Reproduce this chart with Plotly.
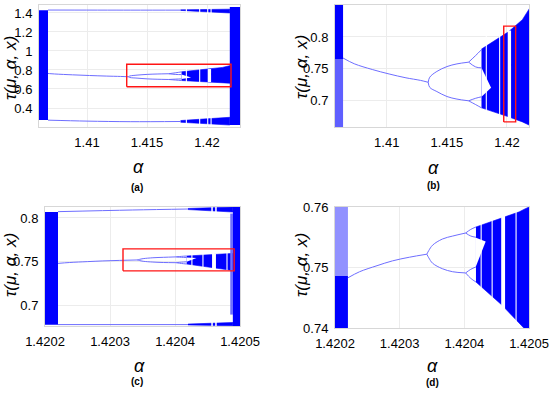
import plotly.graph_objects as go

W, H = 550, 395
BLUE = 'rgb(0,0,255)'
BRANCH = 'rgb(110,110,255)'
RED = 'rgb(255,20,20)'
FONT = "'Liberation Sans Narrow', 'Liberation Sans', Arial, sans-serif"

# ---------------- family (a)/(b): middle branch of the period-3 window ----------------
ab_p1_x = [1.40637, 1.4073, 1.4088, 1.4102, 1.4116, 1.4128, 1.41345]
ab_p1_y = [0.767, 0.758, 0.749, 0.742, 0.736, 0.732, 0.729]
ab_p2_x = [1.41345, 1.41358, 1.41417, 1.41501, 1.41584, 1.41681]
ab_p2_up = [0.729, 0.737, 0.746, 0.7536, 0.7578, 0.7605]
ab_p2_lo = [0.729, 0.721, 0.7145, 0.7067, 0.7027, 0.700]
ab_p4_x = [1.41681, 1.41740, 1.41788]
ab_p4_uu = [0.7605, 0.771, 0.780]
ab_p4_ul = [0.7605, 0.753, 0.7516]
ab_p4_lu = [0.700, 0.704, 0.7063]
ab_p4_ll = [0.700, 0.694, 0.689]
ab_chaos_x = [1.41788, 1.41878, 1.42012, 1.42128, 1.42195, 1.4222]
ab_chaos_top = [0.781, 0.792, 0.808, 0.827, 0.847, 0.852]
ab_chaos_bot = [0.689, 0.683, 0.675, 0.667, 0.661, 0.659]
ab_notch_x = [1.41788, 1.41868, 1.41788]
ab_notch_y = [0.7516, 0.7203, 0.7063]
ab_thin_windows = [1.41828, 1.41939]
ab_wide_window = [1.42006, 1.42034]
ab_wide_mid_x = [1.42034, 1.42037]
ab_wide_mid_y = [0.756, 0.756]

# (a) only: outer branches and crisis bands
a_top_x = [1.40675, 1.4136, 1.4178]
a_top_y = [1.431, 1.430, 1.430]
a_top_chaos_x = [1.4178, 1.4200, 1.4219]
a_top_chaos_up = [1.433, 1.437, 1.440]
a_top_chaos_lo = [1.427, 1.415, 1.400]
a_bot_x = [1.40675, 1.4100, 1.4136, 1.4178]
a_bot_y = [0.272, 0.262, 0.256, 0.258]
a_bot_chaos_x = [1.4178, 1.4200, 1.4219]
a_bot_chaos_up = [0.268, 0.285, 0.302]
a_bot_chaos_lo = [0.250, 0.235, 0.221]
a_left_band_x = [1.4050, 1.40675]
a_left_band_y = [0.274, 1.430]
a_right_band_x = [1.4219, 1.4240]
a_right_band_y = [0.221, 1.463]
a_box_x = [1.41331, 1.42200]
a_box_y = [0.624, 0.860]

# (b) only: chaotic band left of the window
b_left_x = [1.4050, 1.40637]
b_left_solid_y = [0.7656, 0.86]
b_left_stipple_y = [0.65, 0.7656]
b_box_x = [1.41973, 1.42072]
b_box_y = [0.667, 0.817]

# ---------------- family (c)/(d): middle branch of the inner period-3 window ----------------
cd_p1_x = [1.42022, 1.420238, 1.420265, 1.420289, 1.420315, 1.420342]
cd_p1_y = [0.7483, 0.7493, 0.7503, 0.7511, 0.7517, 0.7522]
cd_p2_x = [1.420342, 1.420345, 1.420351, 1.420366, 1.420382, 1.420402]
cd_p2_up = [0.7522, 0.7528, 0.7537, 0.7547, 0.7552, 0.7557]
cd_p2_lo = [0.7522, 0.7516, 0.7507, 0.7498, 0.7493, 0.7491]
cd_p4_x = [1.420402, 1.42041, 1.420418]
cd_p4_uu = [0.7557, 0.7563, 0.7567]
cd_p4_ul = [0.7557, 0.7552, 0.7550]
cd_p4_lu = [0.7491, 0.7497, 0.7501]
cd_p4_ll = [0.7491, 0.7482, 0.7476]
cd_chaos_x = [1.420418, 1.420458, 1.420485, 1.420492, 1.4205, 1.42051]
cd_chaos_top = [0.7567, 0.7582, 0.7592, 0.7596, 0.7600, 0.7605]
cd_chaos_bot = [0.7476, 0.7438, 0.7408, 0.7400, 0.7390, 0.7380]
cd_notch_x = [1.420418, 1.420433, 1.420418]
cd_notch_y = [0.7549, 0.7543, 0.7502]
cd_thin_windows = [1.420426, 1.420443, 1.420480]
cd_wide_window = [1.420457, 1.420463]

# (c) only
c_top_x = [1.42022, 1.420335, 1.42042]
c_top_y = [0.8072, 0.8091, 0.8102]
c_top_chaos_x = [1.42042, 1.420489]
c_top_chaos_up = [0.8108, 0.8125]
c_top_chaos_lo = [0.8096, 0.8068]
c_bot_x = [1.42022, 1.42042]
c_bot_y = [0.6786, 0.6786]
c_bot_chaos_x = [1.42042, 1.420489]
c_bot_chaos_up = [0.6792, 0.6810]
c_bot_chaos_lo = [0.6782, 0.6773]
c_left_band_x = [1.42010, 1.42022]
c_left_band_y = [0.6784, 0.8068]
c_right_band_x = [1.420489, 1.42060]
c_right_band_y = [0.670, 0.820]
c_right_fringe_x = [1.420485, 1.420489]
c_right_fringe_y = [0.690, 0.805]
c_box_x = [1.42032, 1.420491]
c_box_y = [0.7398, 0.7648]

# (d) only: chaotic band left of the inner window
d_left_x = [1.42010, 1.42022]
d_left_solid_y = [0.735, 0.7486]
d_left_stipple_y = [0.7486, 0.765]

# ---------------- axes ----------------
ab_xticks = [1.41, 1.415, 1.42]
ab_xtext = ['1.41', '1.415', '1.42']
cd_xticks = [1.4202, 1.4203, 1.4204, 1.4205]
cd_xtext = ['1.4202', '1.4203', '1.4204', '1.4205']
a_yticks = [0.4, 0.6, 0.8, 1.0, 1.2, 1.4]
a_ytext = ['0.4', '0.6', '0.8', '1', '1.2', '1.4']
bc_yticks = [0.7, 0.75, 0.8]
bc_ytext = ['0.7', '0.75', '0.8']
d_yticks = [0.74, 0.75, 0.76]
d_ytext = ['0.74', '0.75', '0.76']

fig = go.Figure()


def rect(xs, ys):
    return [xs[0], xs[1], xs[1], xs[0], xs[0]], [ys[0], ys[0], ys[1], ys[1], ys[0]]


def band(xr, yr, n, color=BLUE):
    px, py = rect(xr, yr)
    fig.add_trace(go.Scatter(x=px, y=py, mode='lines', fill='toself', line=dict(width=0),
                             fillcolor=color, hoverinfo='skip', showlegend=False,
                             xaxis='x' + n, yaxis='y' + n))


def chaos(xs, top, bot, n, color=BLUE):
    fig.add_trace(go.Scatter(x=list(xs) + list(xs[::-1]), y=list(top) + list(bot[::-1]),
                             mode='lines', fill='toself', line=dict(width=0.6, color=color),
                             fillcolor=color, hoverinfo='skip', showlegend=False,
                             xaxis='x' + n, yaxis='y' + n))


def branch(xs, ys, n, w=1.0, color=BRANCH):
    fig.add_trace(go.Scatter(x=xs, y=ys, mode='lines', line=dict(color=color, width=w, shape='spline'),
                             hoverinfo='skip', showlegend=False, xaxis='x' + n, yaxis='y' + n))


def poly(xs, ys, n, color='white'):
    fig.add_trace(go.Scatter(x=list(xs) + [xs[0]], y=list(ys) + [ys[0]], mode='lines', fill='toself',
                             line=dict(width=0), fillcolor=color, hoverinfo='skip',
                             showlegend=False, xaxis='x' + n, yaxis='y' + n))


def thin_lines(xs, ranges, n, w=1.1):
    lx, ly = [], []
    for x in xs:
        for lo, hi in ranges:
            lx += [x, x, None]
            ly += [lo, hi, None]
    fig.add_trace(go.Scatter(x=lx, y=ly, mode='lines', line=dict(color='white', width=w),
                             hoverinfo='skip', showlegend=False, xaxis='x' + n, yaxis='y' + n))


def box(xs, ys, n):
    px, py = rect(xs, ys)
    fig.add_trace(go.Scatter(x=px, y=py, mode='lines', line=dict(color=RED, width=1.4),
                             hoverinfo='skip', showlegend=False, xaxis='x' + n, yaxis='y' + n))


def middle(n, fam):
    if fam == 'ab':
        chaos(ab_chaos_x, ab_chaos_top, ab_chaos_bot, n)
        poly(ab_notch_x, ab_notch_y, n)
        thin_lines(ab_thin_windows, [(0.655, 0.86)], n)
        wx, wy = rect(ab_wide_window, [0.673, 0.810])
        poly(wx[:4], wy[:4], n)
        branch(ab_wide_mid_x, ab_wide_mid_y, n, 2.0, BLUE)
        branch(ab_p1_x, ab_p1_y, n)
        branch(ab_p2_x, ab_p2_up, n)
        branch(ab_p2_x, ab_p2_lo, n)
        for s in (ab_p4_uu, ab_p4_ul, ab_p4_lu, ab_p4_ll):
            branch(ab_p4_x, s, n)
    else:
        chaos(cd_chaos_x, cd_chaos_top, cd_chaos_bot, n)
        poly(cd_notch_x, cd_notch_y, n)
        thin_lines(cd_thin_windows, [(0.735, 0.762)], n)
        wx, wy = rect(cd_wide_window, [0.735, 0.7592])
        poly(wx[:4], wy[:4], n)
        branch(cd_p1_x, cd_p1_y, n)
        branch(cd_p2_x, cd_p2_up, n)
        branch(cd_p2_x, cd_p2_lo, n)
        for s in (cd_p4_uu, cd_p4_ul, cd_p4_lu, cd_p4_ll):
            branch(cd_p4_x, s, n)


# ----- (a) -----
middle('', 'ab')
chaos(a_top_chaos_x, a_top_chaos_up, a_top_chaos_lo, '')
chaos(a_bot_chaos_x, a_bot_chaos_up, a_bot_chaos_lo, '')
thin_lines(ab_thin_windows + ab_wide_window, [(1.39, 1.45), (0.21, 0.31)], '', 1.1)
branch(a_top_x, a_top_y, '')
branch(a_bot_x, a_bot_y, '')
band(a_left_band_x, a_left_band_y, '')
band(a_right_band_x, a_right_band_y, '')
box(a_box_x, a_box_y, '')

# ----- (b) -----
middle('2', 'ab')
band(b_left_x, b_left_solid_y, '2')
band(b_left_x, b_left_stipple_y, '2', color='rgb(95,95,255)')
box(b_box_x, b_box_y, '2')

# ----- (c) -----
middle('3', 'cd')
chaos(c_top_chaos_x, c_top_chaos_up, c_top_chaos_lo, '3')
chaos(c_bot_chaos_x, c_bot_chaos_up, c_bot_chaos_lo, '3')
thin_lines(cd_wide_window, [(0.805, 0.815), (0.675, 0.683)], '3', 1.5)
branch(c_top_x, c_top_y, '3')
branch(c_bot_x, c_bot_y, '3')
band(c_left_band_x, c_left_band_y, '3')
band(c_right_fringe_x, c_right_fringe_y, '3', color='rgb(110,110,255)')
band(c_right_band_x, c_right_band_y, '3')
box(c_box_x, c_box_y, '3')

# ----- (d) -----
middle('4', 'cd')
band(d_left_x, d_left_solid_y, '4')
band(d_left_x, d_left_stipple_y, '4', color='rgb(145,145,255)')

# ---------------- layout ----------------
def xdom(l, r):
    return [l / W, r / W]


def ydom(t, b):
    return [1 - b / H, 1 - t / H]


def axis(**kw):
    d = dict(showgrid=True, gridcolor='rgb(236,236,236)', gridwidth=1, zeroline=False,
             showline=True, mirror=True, linecolor='rgb(215,215,215)', linewidth=1,
             ticks='outside', ticklen=3, tickcolor='rgba(0,0,0,0)', automargin=False,
             ticklabeloverflow='allow',
             tickfont=dict(family=FONT, size=13, color='black'), tickmode='array')
    d.update(kw)
    return d


layout = dict(width=W, height=H, margin=dict(l=0, r=0, t=0, b=0), template='none',
              paper_bgcolor='white', plot_bgcolor='white', showlegend=False)

layout['xaxis'] = axis(domain=xdom(39, 240), range=[1.406, 1.42275], anchor='y',
                       tickvals=ab_xticks, ticktext=ab_xtext)
layout['yaxis'] = axis(domain=ydom(5, 127), range=[0.2, 1.484], anchor='x',
                       tickvals=a_yticks, ticktext=a_ytext)
layout['xaxis2'] = axis(domain=xdom(335, 529), range=[1.4057, 1.42183], anchor='y2',
                        tickvals=ab_xticks, ticktext=ab_xtext)
layout['yaxis2'] = axis(domain=ydom(5, 127), range=[0.659, 0.85], anchor='x2',
                        tickvals=bc_yticks, ticktext=bc_ytext)
layout['xaxis3'] = axis(domain=xdom(45, 240), range=[1.4202, 1.4205], anchor='y3',
                        tickvals=cd_xticks, ticktext=cd_xtext)
layout['yaxis3'] = axis(domain=ydom(207, 326), range=[0.677, 0.8125], anchor='x3',
                        tickvals=bc_yticks, ticktext=bc_ytext)
layout['xaxis4'] = axis(domain=xdom(335, 529), range=[1.4202, 1.4205], anchor='y4',
                        tickvals=cd_xticks, ticktext=cd_xtext)
layout['yaxis4'] = axis(domain=ydom(207, 328), range=[0.74, 0.76], anchor='x4',
                        tickvals=d_yticks, ticktext=d_ytext)

ann = []


def text(px, py, s, size, angle=0):
    ann.append(dict(x=px / W, y=1 - py / H, xref='paper', yref='paper', text=s,
                    showarrow=False, xanchor='center', yanchor='middle', textangle=angle,
                    font=dict(family=FONT, size=size, color='black')))


YT = '<i>τ(μ, α, x)</i>'
text(10, 68, YT, 17, -90)
text(301, 67, YT, 17, -90)
text(10, 265, YT, 17, -90)
text(301, 265, YT, 17, -90)
text(138, 167, '<i>α</i>', 18)
text(433, 168, '<i>α</i>', 18)
text(140, 366, '<i>α</i>', 18)
text(432, 366, '<i>α</i>', 18)
text(137, 187, '<b>(a)</b>', 10)
text(433, 185, '<b>(b)</b>', 10)
text(137, 381, '<b>(c)</b>', 10)
text(432, 382, '<b>(d)</b>', 10)
layout['annotations'] = ann

fig.update_layout(**layout)
fig.write_html('out.html', config={'displayModeBar': False},
               post_script="document.body.style.margin='0px';")
